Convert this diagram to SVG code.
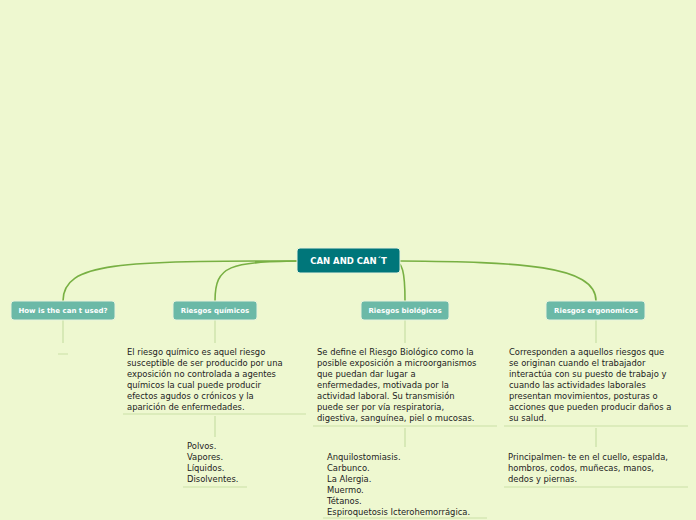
<svg xmlns="http://www.w3.org/2000/svg" width="696" height="520" viewBox="0 0 696 520">
<style>
.c{fill:none;stroke:#78b043;stroke-width:1.6}
.t{fill:none;stroke:#c9e0a6;stroke-width:1.2}
.b{fill:#6bb9a7;stroke:#e8f3dc;stroke-width:1}
.bt{font-family:"DejaVu Sans",sans-serif;font-size:7px;font-weight:bold;fill:#fff;text-anchor:middle}
.tx{font-family:"DejaVu Sans",sans-serif;font-size:8.4px;fill:#222}
</style>
<rect width="696" height="520" fill="#eef8d0"/>
<g id="connectors">
<path class="c" d="M300,261 C120,261 63,262 63,301"/>
<path class="c" d="M300,261 C230,262 215,265 215,301"/>
<path class="c" d="M395,261 C402,263 405,270 405,301"/>
<path class="c" d="M400,261 C520,262 596,265 596,301"/>
<path class="t" d="M63,320V343M58,354H68M215,320V343M123,414H306M215,416V437M183,487H247M405,320V343M313,426H497M405,428V447M323,518H487M596,320V343M504,426H688M596,428V447M504,487H688"/>
</g>
<g id="root"><rect x="297" y="248" width="103" height="25" rx="3" fill="#00767a" stroke="#e8f3dc"/><text x="348.5" y="264" class="bt" font-size="8.5px" style="font-size:8.5px">CAN AND CAN´T</text></g>
<g id="n1"><rect class="b" x="11" y="301" width="104" height="19" rx="3"/><text class="bt" x="63" y="313">How is the can t used?</text></g>
<g id="n2"><rect class="b" x="173" y="301" width="84" height="19" rx="3"/><text class="bt" x="215" y="313">Riesgos químicos</text></g>
<g id="n3"><rect class="b" x="361" y="301" width="88" height="19" rx="3"/><text class="bt" x="405" y="313">Riesgos biológicos</text></g>
<g id="n4"><rect class="b" x="546" y="301" width="99" height="19" rx="3"/><text class="bt" x="596" y="313">Riesgos ergonomicos</text></g>
<g id="t2"><text class="tx" x="127" y="355"><tspan x="127">El riesgo químico es aquel riesgo</tspan><tspan x="127" dy="11">susceptible de ser producido por una</tspan><tspan x="127" dy="11">exposición no controlada a agentes</tspan><tspan x="127" dy="11">químicos la cual puede producir</tspan><tspan x="127" dy="11">efectos agudos o crónicos y la</tspan><tspan x="127" dy="11">aparición de enfermedades.</tspan></text></g>
<g id="l2"><text class="tx" x="187" y="449"><tspan x="187">Polvos.</tspan><tspan x="187" dy="11">Vapores.</tspan><tspan x="187" dy="11">Líquidos.</tspan><tspan x="187" dy="11">Disolventes.</tspan></text></g>
<g id="t3"><text class="tx" x="317" y="355"><tspan x="317">Se define el Riesgo Biológico como la</tspan><tspan x="317" dy="11">posible exposición a microorganismos</tspan><tspan x="317" dy="11">que puedan dar lugar a</tspan><tspan x="317" dy="11">enfermedades, motivada por la</tspan><tspan x="317" dy="11">actividad laboral. Su transmisión</tspan><tspan x="317" dy="11">puede ser por vía respiratoria,</tspan><tspan x="317" dy="11">digestiva, sanguínea, piel o mucosas.</tspan></text></g>
<g id="l3"><text class="tx" x="327" y="460"><tspan x="327">Anquilostomiasis.</tspan><tspan x="327" dy="11">Carbunco.</tspan><tspan x="327" dy="11">La Alergia.</tspan><tspan x="327" dy="11">Muermo.</tspan><tspan x="327" dy="11">Tétanos.</tspan><tspan x="327" dy="11">Espiroquetosis Icterohemorrágica.</tspan></text></g>
<g id="t4"><text class="tx" x="509" y="355"><tspan x="509">Corresponden a aquellos riesgos que</tspan><tspan x="509" dy="11">se originan cuando el trabajador</tspan><tspan x="509" dy="11">interactúa con su puesto de trabajo y</tspan><tspan x="509" dy="11">cuando las actividades laborales</tspan><tspan x="509" dy="11">presentan movimientos, posturas o</tspan><tspan x="509" dy="11">acciones que pueden producir daños a</tspan><tspan x="509" dy="11">su salud.</tspan></text></g>
<g id="l4"><text class="tx" x="508" y="460"><tspan x="508">Principalmen- te en el cuello, espalda,</tspan><tspan x="508" dy="11">hombros, codos, muñecas, manos,</tspan><tspan x="508" dy="11">dedos y piernas.</tspan></text></g>
</svg>
